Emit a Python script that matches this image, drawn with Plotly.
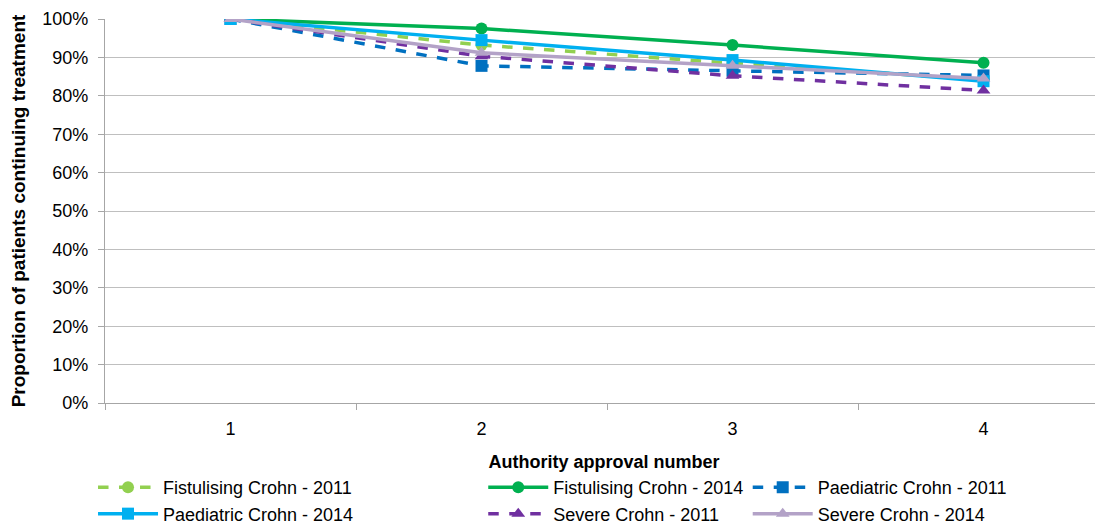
import plotly.graph_objects as go

categories = ["1", "2", "3", "4"]
series_names = [
    "Fistulising Crohn - 2011",
    "Fistulising Crohn - 2014",
    "Paediatric Crohn - 2011",
    "Paediatric Crohn - 2014",
    "Severe Crohn - 2011",
    "Severe Crohn - 2014",
]
fist_2011 = [1.00, 0.932, 0.885, 0.842]
fist_2014 = [1.00, 0.975, 0.932, 0.886]
paed_2011 = [1.00, 0.878, 0.865, 0.853]
paed_2014 = [1.00, 0.945, 0.893, 0.838]
sev_2011 = [1.00, 0.903, 0.852, 0.814]
sev_2014 = [1.00, 0.912, 0.878, 0.845]
y_ticks = [0, 0.1, 0.2, 0.3, 0.4, 0.5, 0.6, 0.7, 0.8, 0.9, 1.0]

values = [fist_2011, fist_2014, paed_2011, paed_2014, sev_2011, sev_2014]
colors = ["#92D050", "#00B050", "#0070C0", "#00B0F0", "#7030A0", "#B3A2C7"]
dashes = ["dash", "solid", "dash", "solid", "dash", "solid"]
symbols = ["circle", "circle", "square", "square", "triangle-up", "triangle-up"]
legends = ["legend", "legend2", "legend3", "legend", "legend2", "legend3"]

FONT = "Liberation Sans, Arial, sans-serif"

fig = go.Figure()
for name, vals, c, d, s, lg in zip(series_names, values, colors, dashes, symbols, legends):
    fig.add_trace(go.Scatter(
        x=categories, y=vals, name=name, mode="lines+markers",
        line=dict(color=c, width=3.5, dash=d),
        marker=dict(color=c, symbol=s, size=12),
        legend=lg,
    ))

leg_common = dict(
    orientation="v", yanchor="top", xanchor="left",
    font=dict(family=FONT, size=18, color="#000000"),
    bgcolor="rgba(0,0,0,0)", tracegroupgap=0, itemwidth=60,
)
fig.update_layout(
    width=1095, height=518,
    margin=dict(l=97, r=0, t=11, b=123, autoexpand=False),
    paper_bgcolor="white", plot_bgcolor="white",
    font=dict(family=FONT, size=18, color="#000000"),
    legend=dict(x=-0.012, y=-0.172, **leg_common),
    legend2=dict(x=0.379, y=-0.172, **leg_common),
    legend3=dict(x=0.644, y=-0.172, **leg_common),
    xaxis=dict(
        type="category", range=[-0.5, 3.476], automargin=False,
        tickson="boundaries", ticks="outside", ticklen=6, tickcolor="#A6A6A6",
        showline=True, linecolor="#A6A6A6", linewidth=1.3,
        showgrid=False, zeroline=False,
        tickfont=dict(family=FONT, size=18),
        ticklabelstandoff=9,
        title=dict(text="<b>Authority approval number</b>", standoff=17,
                   font=dict(family=FONT, size=18)),
    ),
    yaxis=dict(
        range=[0, 1.0], tickvals=y_ticks, tickformat=".0%", automargin=False,
        ticks="outside", ticklen=6, tickcolor="#A6A6A6",
        showline=True, linecolor="#A6A6A6", linewidth=1.3,
        showgrid=True, gridcolor="#BFBFBF", gridwidth=1.3, zeroline=False,
        tickfont=dict(family=FONT, size=18),
        ticklabelstandoff=6,
        title=dict(text="<b>Proportion of patients continuing treatment</b>", standoff=12,
                   font=dict(family=FONT, size=19)),
    ),
)
fig.write_html("out.html")
